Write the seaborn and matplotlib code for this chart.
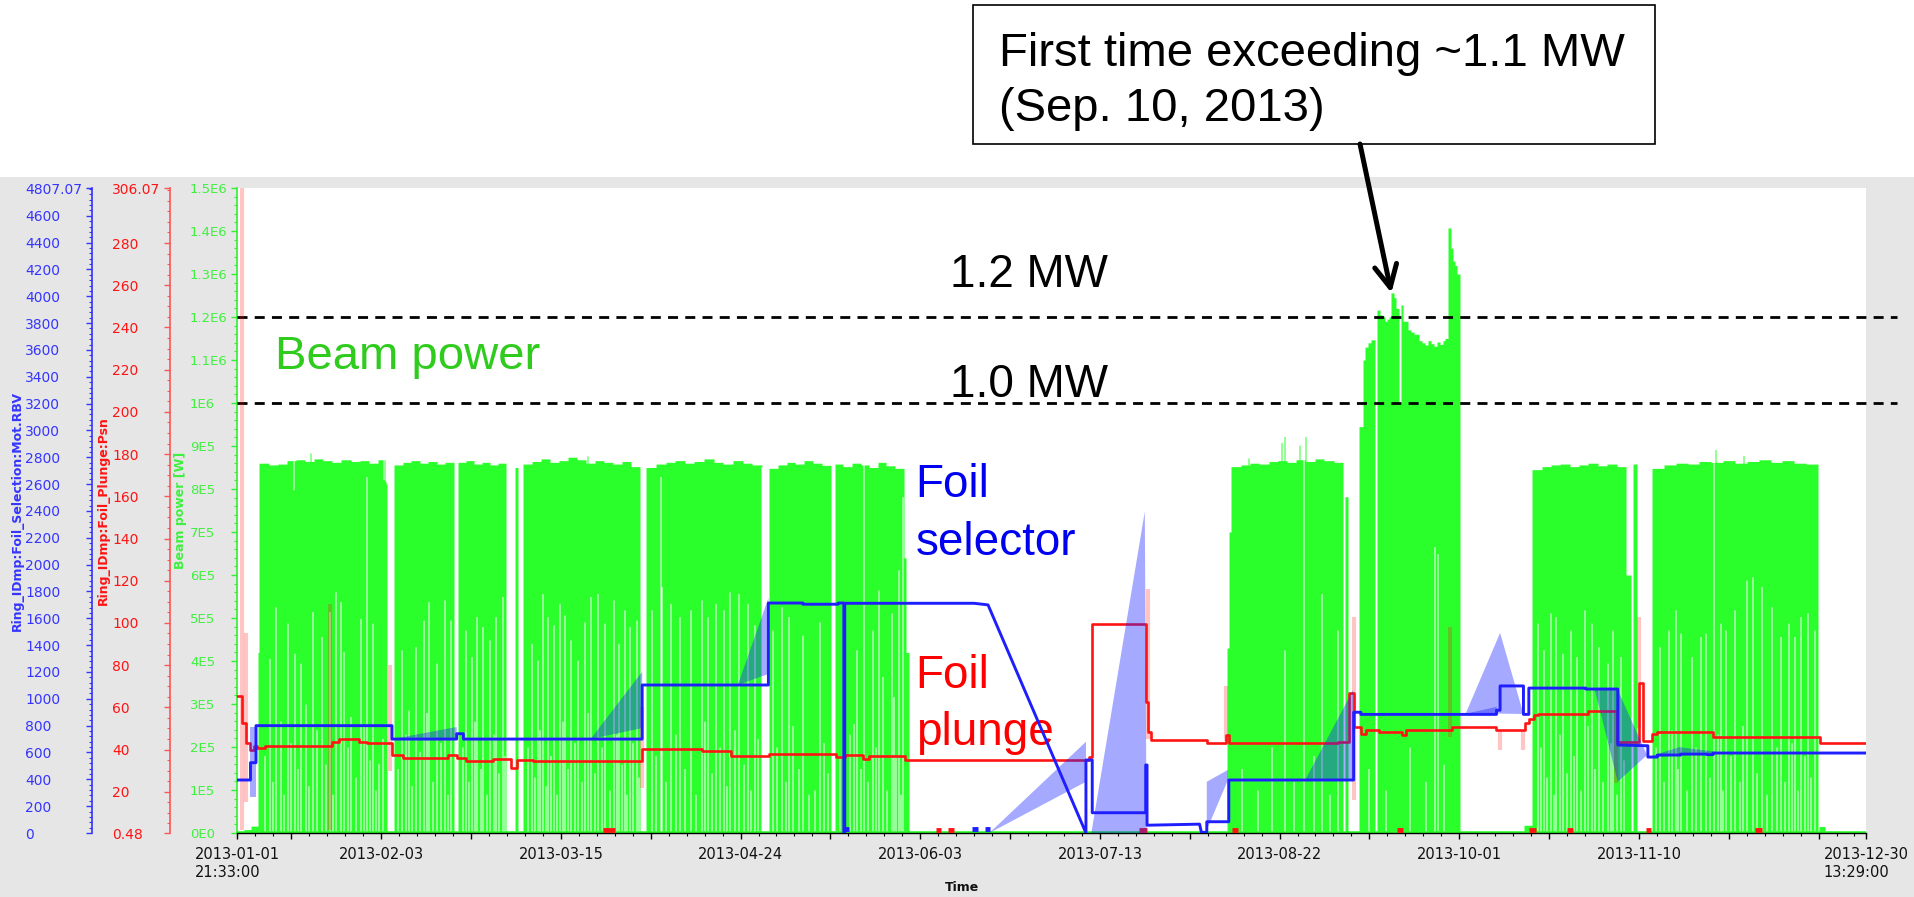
import numpy as np
import pandas as pd
import matplotlib
matplotlib.use("Agg")
import matplotlib.pyplot as plt
import seaborn as sns
from matplotlib.patches import Rectangle
from matplotlib.ticker import FixedLocator, MultipleLocator

sns.set_style("white")
plt.rcParams["font.family"] = ["DejaVu Sans"]
plt.rcParams["text.color"] = "black"

# ---------------------------------------------------------------- time base
T0 = pd.Timestamp("2013-01-01")


def to_day(stamp):
    return (pd.Timestamp(stamp) - T0) / pd.Timedelta(days=1)


t_first = to_day("2013-01-01 21:33:00")
t_last = to_day("2013-12-30 13:29:00")

# ---------------------------------------------------------------- beam power [W]
# operating segments: start day, end day, stepwise top-of-envelope levels
seg_start = [0.90, 2.5, 4.0, 5.6, 5.9, 35.9, 50.1, 62.9, 64.5, 92.0, 119.3, 134.0,
             149.3, 149.9, 221.3, 221.8, 222.3, 247.6, 250.6, 251.5, 252.0, 253.3,
             254.7, 255.9, 257.9, 259.0, 259.5, 260.0, 260.5, 261.5, 263.0, 264.0,
             270.6, 271.1, 271.6, 272.6, 287.4, 289.3, 310.2, 311.6, 315.9, 353.0]
seg_end = [2.5, 4.0, 5.6, 5.9, 34.3, 49.2, 60.8, 63.5, 90.6, 117.8, 133.1, 149.3,
           149.9, 150.5, 221.8, 222.3, 247.1, 248.2, 251.5, 252.0, 253.3, 254.2,
           255.9, 257.9, 259.0, 259.5, 260.0, 260.5, 261.5, 263.0, 264.0, 270.6,
           271.1, 271.6, 272.6, 273.1, 289.3, 310.1, 311.2, 312.5, 352.9, 354.5]
seg_level = [
    [3e3], [8e3], [16e3], [420e3],
    [860e3, 856e3, 858e3, 866e3, 868e3, 864e3, 870e3, 866e3, 862e3, 868e3, 864e3, 866e3, 860e3, 868e3],
    [856e3, 862e3, 866e3, 860e3, 864e3, 858e3, 862e3],
    [862e3, 866e3, 858e3, 862e3, 856e3, 860e3],
    [850e3],
    [858e3, 864e3, 870e3, 862e3, 866e3, 874e3, 868e3, 860e3, 866e3, 862e3, 858e3, 864e3, 852e3],
    [850e3, 858e3, 862e3, 866e3, 860e3, 864e3, 870e3, 862e3, 858e3, 866e3, 860e3, 856e3],
    [848e3, 856e3, 862e3, 858e3, 866e3, 860e3, 855e3],
    [858e3, 852e3, 860e3, 856e3, 850e3, 862e3, 854e3, 848e3],
    [640e3], [420e3], [430e3], [700e3],
    [852e3, 856e3, 860e3, 858e3, 864e3, 866e3, 862e3, 868e3, 864e3, 870e3, 866e3, 862e3],
    [782e3],
    [945e3], [1.10e6], [1.13e6, 1.14e6], [1.147e6],
    [1.216e6, 1.205e6], [1.20e6, 1.19e6, 1.195e6, 1.20e6], [1.256e6, 1.245e6],
    [1.22e6], [1.0e6], [1.228e6], [1.19e6], [1.17e6, 1.165e6], [1.16e6],
    [1.145e6, 1.14e6, 1.135e6, 1.145e6, 1.138e6, 1.132e6, 1.142e6, 1.136e6, 1.145e6, 1.15e6],
    [1.407e6], [1.36e6], [1.33e6, 1.32e6], [1.30e6],
    [18e3],
    [845e3, 852e3, 856e3, 858e3, 852e3, 856e3, 860e3, 854e3, 858e3, 852e3],
    [600e3], [858e3],
    [848e3, 856e3, 860e3, 858e3, 864e3, 862e3, 866e3, 860e3, 864e3, 868e3, 862e3, 866e3, 860e3, 858e3],
    [15e3],
]

# single-bin peaks / dips of the envelope top
peak_day = [13.4, 17.3, 33.6, 33.9, 34.2, 79.0, 226.0, 233.5, 234.1, 237.5, 238.8, 330.0, 336.4]
peak_top = [798e3, 884e3, 822e3, 818e3, 812e3, 877e3, 872e3, 908e3, 922e3, 902e3, 922e3, 892e3, 878e3]

# bins without a full trip: envelope floor stays above zero
quiet_day = [8.21, 9.48, 12.03, 13.62, 15.05, 17.75, 19.82, 21.41, 22.76, 23.95, 24.5, 26.2,
             28.3, 29.7, 31.1, 32.5,
             37.6, 39.05, 40.6, 42.4, 43.6, 45.4, 47.0, 48.4,
             51.8, 53.0, 54.3, 55.6, 57.2, 58.5, 59.9,
             66.5, 67.7, 68.9, 70.1, 71.25, 72.8, 73.9, 75.2, 76.8, 78.2, 79.6, 81.2, 82.8,
             84.8, 85.8, 87.1, 88.3, 89.8,
             93.1, 95.1, 95.5, 97.5, 99.5, 101.8, 104.2, 105.7, 107.4, 109.2, 110.6, 112.6,
             114.6, 116.0, 117.6,
             120.1, 122.1, 123.7, 126.9, 129.4, 130.5, 138.2, 138.9, 140.3, 142.4, 143.8,
             144.6, 146.6, 147.0, 148.2, 149.1,
             234.0, 238.4, 242.4, 246.0, 267.4, 268.1,
             290.5, 291.7, 293.3, 294.5, 296.1, 297.7, 299.2, 300.8, 302.4, 304.0, 306.0,
             307.2, 308.8,
             317.5, 319.5, 321.1, 322.3, 324.7, 326.7, 327.9, 329.5, 331.1, 332.3, 334.3,
             337.0, 338.4, 340.4, 342.6, 344.6, 346.2, 347.6, 349.0, 350.6, 352.1]
quiet_floor = [406e3, 526e3, 488e3, 418e3, 395e3, 515e3, 457e3, 515e3, 561e3, 538e3, 422e3, 271e3,
               499e3, 829e3, 488e3, 162e3,
               426e3, 286e3, 433e3, 495e3, 538e3, 395e3, 542e3, 495e3,
               472e3, 410e3, 503e3, 480e3, 449e3, 503e3, 550e3,
               441e3, 402e3, 557e3, 503e3, 484e3, 534e3, 507e3, 449e3, 402e3, 491e3, 550e3,
               557e3, 488e3, 542e3, 441e3, 519e3, 480e3, 495e3,
               519e3, 829e3, 573e3, 534e3, 503e3, 519e3, 542e3, 503e3, 534e3, 519e3, 561e3,
               557e3, 534e3, 484e3, 852e3,
               472e3, 526e3, 503e3, 460e3, 100e3, 491e3, 255e3, 426e3, 860e3, 472e3, 565e3,
               364e3, 512e3, 317e3, 612e3, 782e3,
               426e3, 870e3, 557e3, 472e3, 666e3, 650e3,
               488e3, 426e3, 512e3, 503e3, 418e3, 472e3, 410e3, 519e3, 488e3, 433e3, 395e3,
               472e3, 410e3,
               433e3, 472e3, 519e3, 465e3, 410e3, 457e3, 465e3, 870e3, 488e3, 472e3, 519e3,
               588e3, 596e3, 573e3, 526e3, 457e3, 488e3, 457e3, 503e3, 512e3, 472e3]

# shorter trip-free bins near the bottom of the envelope
low_quiet_day = [7.0, 8.8, 10.6, 11.3, 12.8, 14.3, 16.2, 16.8, 18.7, 20.6, 22.1, 25.4, 27.3,
                 29.0, 30.4, 31.8, 33.3,
                 36.6, 38.3, 39.8, 41.5, 43.0, 44.5, 46.2, 47.7,
                 51.1, 52.4, 53.7, 55.0, 56.4, 57.9, 59.2, 60.4,
                 65.5, 67.1, 68.3, 69.5, 70.7, 72.0, 73.3, 74.5, 76.0, 77.5, 78.9, 80.4, 82.0,
                 83.8, 85.3, 86.5, 87.7, 89.0, 90.2,
                 94.0, 96.3, 98.5, 100.6, 103.0, 104.9, 106.5, 108.3, 109.9, 111.6, 113.6,
                 115.3, 116.8,
                 121.0, 122.9, 124.6, 125.8, 128.2, 131.5, 132.4, 135.0, 136.1, 137.2, 139.6,
                 141.3, 143.1, 145.5, 147.6, 148.7,
                 224.5, 228.0, 231.2, 236.0, 240.5, 244.2,
                 252.8, 256.5, 262.0, 265.5, 269.4,
                 291.1, 292.5, 293.9, 295.3, 296.9, 298.5, 300.0, 301.6, 303.2, 305.0, 306.6,
                 308.0, 309.5,
                 316.8, 318.5, 320.3, 321.7, 323.5, 325.7, 328.7, 330.5, 331.7, 333.3, 335.5,
                 336.0, 339.2, 341.5, 343.6, 345.4, 346.9, 348.3, 349.8, 351.3]
low_quiet_floor = [180e3, 120e3, 260e3, 90e3, 210e3, 150e3, 300e3, 110e3, 240e3, 160e3, 90e3,
                   200e3, 130e3, 250e3, 170e3, 100e3, 220e3,
                   150e3, 230e3, 110e3, 190e3, 280e3, 120e3, 210e3, 90e3,
                   200e3, 120e3, 260e3, 150e3, 90e3, 230e3, 140e3, 180e3,
                   200e3, 130e3, 240e3, 110e3, 180e3, 90e3, 260e3, 150e3, 210e3, 120e3, 280e3,
                   140e3, 200e3, 100e3, 230e3, 160e3, 90e3, 210e3, 130e3,
                   180e3, 120e3, 230e3, 150e3, 90e3, 260e3, 140e3, 200e3, 110e3, 240e3, 160e3,
                   100e3, 220e3,
                   200e3, 120e3, 250e3, 150e3, 90e3, 210e3, 140e3, 180e3, 100e3, 230e3, 150e3,
                   120e3, 200e3, 100e3, 180e3, 90e3,
                   150e3, 100e3, 200e3, 120e3, 180e3, 90e3,
                   150e3, 100e3, 200e3, 120e3, 160e3,
                   200e3, 130e3, 90e3, 230e3, 140e3, 180e3, 100e3, 250e3, 150e3, 120e3, 210e3,
                   90e3, 170e3,
                   200e3, 120e3, 240e3, 150e3, 100e3, 200e3, 130e3, 230e3, 100e3, 180e3, 120e3,
                   250e3, 140e3, 90e3, 200e3, 120e3, 210e3, 100e3, 180e3, 130e3]

# ---------------------------------------------------------------- foil plunge [position]
plunge_day = [0.90, 2.12, 2.81, 3.79, 4.6, 5.3, 7.08, 22.0, 23.5, 28.0, 29.95, 35.4, 37.9,
              47.85, 49.8, 51.8, 57.8, 61.8, 63.2, 66.7, 75.7, 91.1, 104.5, 110.9, 119.4,
              134.3, 136.3, 140.3, 141.7, 149.7, 190.6, 191.3, 203.3, 203.7, 204.4, 216.8,
              221.0, 221.7, 246.0, 248.4, 249.6, 251.1, 252.3, 255.1, 260.3, 261.1, 271.4,
              281.3, 287.7, 288.5, 289.6, 290.5, 301.6, 308.1, 313.1, 313.9, 315.9, 317.1,
              329.5, 353.3, 363.56]
plunge_pos = [65.4, 52.6, 43.1, 39.8, 41.5, 40.7, 41.7, 43.5, 45.2, 43.5, 43.2, 37.4, 36.0,
              37.2, 36.0, 34.7, 35.5, 31.3, 35.0, 34.4, 34.8, 40.3, 39.5, 37.0, 37.9,
              36.7, 37.6, 35.5, 37.0, 35.1, 36.5, 99.5, 62.7, 48.5, 44.5, 43.3,
              46.7, 43.0, 43.7, 66.8, 50.8, 47.6, 49.2, 48.5, 47.0, 49.2, 50.8,
              49.5, 52.5, 54.5, 56.6, 56.9, 58.4, 43.5, 71.5, 44.3, 47.6, 48.5,
              46.1, 43.3, 43.3]

# min/max excursions of the plunge readback
plunge_band_day = [1.95, 3.0, 21.6, 35.0, 91.0, 203.7, 221.0, 249.5, 270.9, 282.1, 287.3, 308.0, 313.1]
plunge_band_lo = [2, 15, 2, 30, 22, 45, 44, 16, 46, 40, 40, 24, 50]
plunge_band_hi = [306, 95, 109, 80, 60, 116, 70, 103, 98, 49, 49, 58, 103]

# ---------------------------------------------------------------- foil selector [motor readback]
selector_day = [0.90, 3.9, 3.9, 5.13, 5.13, 35.4, 35.4, 49.8, 49.8, 51.3, 51.3, 91.1, 91.1,
                119.2, 119.2, 126.9, 126.9, 134.7, 134.7, 136.0, 136.0, 136.2, 136.2, 165.0,
                168.1, 189.9, 189.9, 191.3, 191.3, 203.2, 203.2, 203.5, 203.5, 215.2, 215.6,
                216.8, 216.8, 221.7, 221.7, 249.5, 249.5, 251.1, 251.1, 281.3, 281.3, 282.1,
                282.1, 287.3, 287.3, 288.5, 288.5, 301.2, 301.2, 308.3, 308.3, 315.0, 315.0,
                317.1, 317.1, 322.3, 322.3, 328.3, 328.3, 329.5, 329.5, 363.56]
selector_pos = [395, 395, 524, 524, 800, 800, 700, 700, 740, 740, 700, 700, 1103,
                1103, 1714, 1714, 1705, 1705, 1714, 1714, 0, 0, 1712, 1712,
                1700, 0, 544, 544, 151, 151, 507, 507, 58, 66, 5,
                5, 84, 84, 395, 395, 900, 900, 884, 884, 915, 915,
                1096, 1096, 884, 884, 1080, 1080, 1073, 1073, 656, 650, 566,
                566, 581, 581, 588, 588, 584, 584, 596, 596]

# min/max shading of the selector readback between samples
sel_band_day = [[3.9, 5.1, 5.1, 3.9], [35.4, 49.8, 49.8], [79.6, 91.1, 91.1],
                [112.4, 119.2, 119.2], [168.4, 189.9, 189.9], [191.1, 203.0, 203.4],
                [216.8, 221.5, 221.5, 216.8], [238.7, 249.4, 249.4], [273.8, 281.3, 281.3],
                [274.5, 282.1, 287.3], [303.2, 308.3, 314.8, 308.3],
                [315.0, 322.0, 330.0, 330.0, 315.0]]
sel_band_pos = [[790, 790, 270, 270], [700, 790, 700], [700, 1202, 782],
                [1103, 1751, 1185], [0, 680, 382], [0, 2395, 0],
                [382, 470, 395, 22], [395, 1066, 395], [884, 940, 884],
                [894, 1491, 887], [1066, 1066, 581, 382],
                [566, 640, 606, 590, 566]]

# zero-level markers
plunge_mark_start = [82.4, 156.5, 159.2, 201.7, 222.4, 259.1, 288.5, 297.0, 314.6, 338.9]
plunge_mark_end = [85.0, 157.6, 160.5, 203.5, 223.7, 260.5, 290.0, 298.3, 315.8, 340.5]
selector_mark_start = [136.1, 164.5, 167.4]
selector_mark_end = [137.2, 165.9, 168.5]

# axis ranges and ticks
power_max = 1.5e6
plunge_min, plunge_max = 0.48, 306.07
selector_max = 4807.07
x_label_dates = ["2013-02-03", "2013-03-15", "2013-04-24", "2013-06-03",
                 "2013-07-13", "2013-08-22", "2013-10-01", "2013-11-10"]
x_mid_dates = ["2013-01-14", "2013-02-23", "2013-04-04", "2013-05-14", "2013-06-23",
               "2013-08-02", "2013-09-11", "2013-10-21", "2013-11-30", "2013-12-20"]

# ---------------------------------------------------------------- colours
GREEN_FILL = "#2bff2b"
GREEN_AX = "#30f030"
GREEN_TXT = "#40f040"
RED = "#ff1414"
RED_AX = "#ff5555"
BLUE = "#1e1eff"
BLUE_AX = "#3535ff"
BG = "#e6e6e6"
ANN_FONT = ["Liberation Sans", "DejaVu Sans"]

# ---------------------------------------------------------------- figure
W, H = 1915, 897
fig = plt.figure(figsize=(W / 100, H / 100), dpi=100, facecolor="white")
fig.patches.append(Rectangle((0, 0), 1, 720 / H, transform=fig.transFigure,
                             facecolor=BG, edgecolor="none", zorder=-10))

ax = fig.add_axes([237 / W, 64 / H, 1629 / W, 645 / H])
ax.set_facecolor("white")
ax_red = ax.twinx()
ax_blue = ax.twinx()

# beam power envelope rasterised to one bin per pixel column
n_col = 1629
edges = np.linspace(t_first, t_last, n_col + 1)
mid = 0.5 * (edges[:-1] + edges[1:])
top = np.zeros(n_col)
floor = np.zeros(n_col)
for s, e, lv in zip(seg_start, seg_end, seg_level):
    m = (mid >= s) & (mid < e)
    k = np.minimum(((mid[m] - s) / (e - s) * len(lv)).astype(int), len(lv) - 1)
    top[m] = np.asarray(lv)[k]


def col_of(d):
    return int(np.clip(np.searchsorted(edges, d) - 1, 0, n_col - 1))


for d, v in zip(peak_day, peak_top):
    top[col_of(d)] = v
for d, v in zip(quiet_day + low_quiet_day, quiet_floor + low_quiet_floor):
    i = col_of(d)
    floor[i] = min(v, top[i])

ax.fill_between(edges, np.append(floor, floor[-1]), np.append(top, top[-1]),
                step="post", color=GREEN_FILL, linewidth=0, antialiased=False, zorder=1)
ax.axhline(0, color=GREEN_FILL, lw=2.6, zorder=1.5)

# plunge
ax_red.vlines(plunge_band_day, plunge_band_lo, plunge_band_hi, color=RED, lw=3, alpha=0.25)
sns.lineplot(x=plunge_day, y=plunge_pos, ax=ax_red, color=RED, lw=1.9,
             drawstyle="steps-post", estimator=None, sort=False, legend=False)
ax_red.hlines([2.0] * len(plunge_mark_start), plunge_mark_start, plunge_mark_end,
              color=RED, lw=3.5)

# selector
for dd, pp in zip(sel_band_day, sel_band_pos):
    ax_blue.fill(dd, pp, color="#1e28ff", alpha=0.4, lw=0)
sns.lineplot(x=selector_day, y=selector_pos, ax=ax_blue, color=BLUE, lw=2.1,
             estimator=None, sort=False, legend=False)
ax_blue.hlines([28] * len(selector_mark_start), selector_mark_start, selector_mark_end,
               color=BLUE, lw=3.5)

# ---------------------------------------------------------------- axes styling
ax.set_xlim(t_first, t_last)
ax.set_ylim(0, power_max)
ax_red.set_ylim(plunge_min, plunge_max)
ax_blue.set_ylim(0, selector_max)

for a in (ax, ax_red, ax_blue):
    for side in ("top", "right", "bottom", "left"):
        a.spines[side].set_visible(False)
    a.set_xlabel("")
    a.set_ylabel("")

ax.spines["bottom"].set_visible(True)
ax.spines["bottom"].set_color("black")
ax.spines["bottom"].set_linewidth(1.0)
ax.spines["left"].set_visible(True)
ax.spines["left"].set_color(GREEN_AX)
ax.spines["left"].set_linewidth(1.2)

for a, off, col in ((ax_red, 67, RED_AX), (ax_blue, 145, BLUE_AX)):
    a.yaxis.tick_left()
    a.yaxis.set_label_position("left")
    sp = a.spines["left"]
    sp.set_visible(True)
    sp.set_position(("outward", off * 0.72))
    sp.set_color(col)
    sp.set_linewidth(1.2)


def sci_label(v):
    if v == 0:
        return "0E0"
    e = int(np.floor(np.log10(v) + 1e-9))
    return f"{v / 10 ** e:g}E{e}"


p_ticks = np.arange(0, power_max + 1, 1e5)
ax.set_yticks(p_ticks, [sci_label(v) for v in p_ticks], ha="left")
ax.yaxis.set_minor_locator(MultipleLocator(2e4))
ax.tick_params(axis="y", which="major", left=True, length=4.3, width=1, color=GREEN_AX,
               labelcolor=GREEN_TXT, labelsize=9.5, pad=29.5)
ax.tick_params(axis="y", which="minor", left=True, length=2.2, width=0.8, color=GREEN_AX)

r_ticks = [plunge_min] + list(range(20, 300, 20)) + [plunge_max]
ax_red.set_yticks(r_ticks, [f"{v:g}" for v in r_ticks], ha="left")
ax_red.yaxis.set_minor_locator(MultipleLocator(5))
ax_red.tick_params(axis="y", which="major", left=True, right=False, length=4.3, width=1,
                   color=RED_AX, labelcolor=RED, labelsize=10, pad=37.5)
ax_red.tick_params(axis="y", which="minor", left=True, right=False, length=2.2, width=0.8,
                   color=RED_AX)

b_ticks = list(range(0, 4601, 200)) + [selector_max]
ax_blue.set_yticks(b_ticks, [f"{v:g}" for v in b_ticks], ha="left")
ax_blue.yaxis.set_minor_locator(MultipleLocator(40))
ax_blue.tick_params(axis="y", which="major", left=True, right=False, length=4.3, width=1,
                    color=BLUE_AX, labelcolor=BLUE_AX, labelsize=10, pad=43.9)
ax_blue.tick_params(axis="y", which="minor", left=True, right=False, length=2.2, width=0.8,
                    color=BLUE_AX)

# time axis
labelled = {to_day(d): d for d in x_label_dates}
x_ticks = [t_first] + [to_day(d) for d in x_mid_dates] + list(labelled) + [t_last]
first_ts = T0 + pd.Timedelta(days=t_first)
last_ts = T0 + pd.Timedelta(days=t_last)
x_labels = []
for t in x_ticks:
    if t == t_first:
        x_labels.append(first_ts.strftime("%Y-%m-%d\n%H:%M:%S"))
    elif t == t_last:
        x_labels.append(last_ts.strftime("%Y-%m-%d\n%H:%M:%S"))
    else:
        x_labels.append(labelled.get(t, ""))
ax.set_xticks(x_ticks, x_labels)
for lbl in ax.get_xticklabels():
    lbl.set_multialignment("left")
ax.xaxis.set_minor_locator(FixedLocator(np.arange(1, t_last, 4)))
ax.tick_params(axis="x", which="major", bottom=True, length=4.3, width=1, color="black",
               labelsize=10.5, labelcolor="#111111", pad=6)
ax.tick_params(axis="x", which="minor", bottom=True, length=2.2, width=0.8, color="black")
for a in (ax_red, ax_blue):
    a.tick_params(axis="x", which="both", bottom=False, labelbottom=False)

# axis titles
ax_blue.set_ylabel("Ring_IDmp:Foil_Selection:Mot.RBV", color=BLUE_AX, fontsize=9,
                   fontweight="bold")
ax_blue.yaxis.set_label_coords((23.5 - 237) / 1629, 0.5)
ax_red.set_ylabel("Ring_IDmp:Foil_Plunge:Psn", color=RED, fontsize=9, fontweight="bold")
ax_red.yaxis.set_label_coords((109.5 - 237) / 1629, 0.5)
ax.set_ylabel("Beam power [W]", color=GREEN_TXT, fontsize=9, fontweight="bold")
ax.yaxis.set_label_coords((187.5 - 237) / 1629, 0.5)
fig.text(962 / W, 1 - 887 / H, "Time", ha="center", va="center", fontsize=9,
         fontweight="bold", color="#111111")

# ---------------------------------------------------------------- reference levels & notes
for level in (1.2e6, 1.0e6):
    ax.plot([0, (1897 - 237) / 1629], [level, level], transform=ax.get_yaxis_transform(),
            color="black", lw=2.0, dashes=(3.6, 2.6), clip_on=False, zorder=3)
ax.text(159.6, 1.27e6, "1.2 MW", fontsize=33, family=ANN_FONT, color="black",
        va="baseline", zorder=4)
ax.text(159.6, 1.015e6, "1.0 MW", fontsize=33, family=ANN_FONT, color="black",
        va="baseline", zorder=4)
ax.text(9.4, 1.079e6, "Beam power", fontsize=34, family=ANN_FONT, color="#2fcc1e",
        va="baseline", zorder=4)
ax.text(152.0, 781e3, "Foil", fontsize=33, family=ANN_FONT, color="#0000f0",
        va="baseline", zorder=4)
ax.text(152.0, 646e3, "selector", fontsize=33, family=ANN_FONT, color="#0000f0",
        va="baseline", zorder=4)
ax.text(152.0, 337e3, "Foil", fontsize=33, family=ANN_FONT, color="#ff0000",
        va="baseline", zorder=4)
ax.text(152.0, 205e3, "plunge", fontsize=33, family=ANN_FONT, color="#ff0000",
        va="baseline", zorder=4)

# call-out for the first >1.1 MW operation
fig.patches.append(Rectangle((973 / W, 1 - 144 / H), 682 / W, 139 / H,
                             transform=fig.transFigure, fill=False,
                             edgecolor="black", lw=1.2, zorder=5))
fig.text(999 / W, 1 - 66 / H, "First time exceeding ~1.1 MW", fontsize=34,
         family=ANN_FONT, color="black", va="baseline")
fig.text(999 / W, 1 - 121 / H, "(Sep. 10, 2013)", fontsize=34, family=ANN_FONT,
         color="black", va="baseline")
ax.annotate("", xy=(257.9, 1.256e6), xycoords="data",
            xytext=(1360, H - 144), textcoords="figure pixels",
            arrowprops=dict(arrowstyle="->,head_length=0.8,head_width=0.4", lw=3.6,
                            color="black", shrinkA=0, shrinkB=0, mutation_scale=20),
            annotation_clip=False, zorder=6)

fig.savefig("out.png", dpi=100, facecolor=fig.get_facecolor())
